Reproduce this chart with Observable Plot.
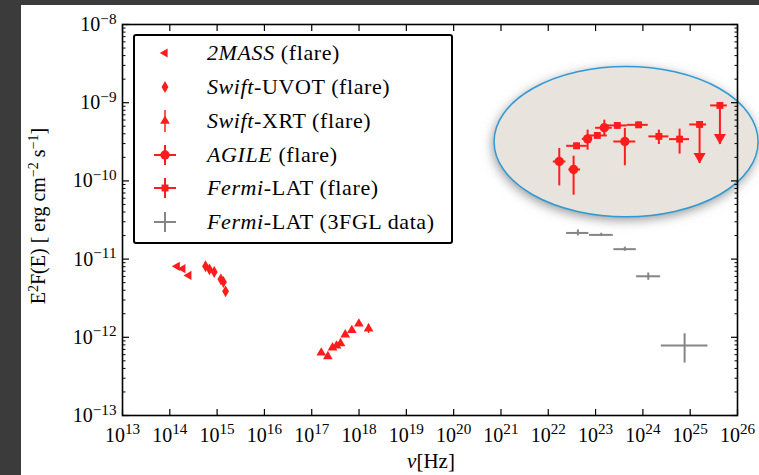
<!DOCTYPE html>
<html><head><meta charset="utf-8">
<script src="https://cdn.jsdelivr.net/npm/d3@7"></script>
<script src="https://cdn.jsdelivr.net/npm/@observablehq/plot@0.6"></script>
<style>
html,body{margin:0;padding:0;background:#3b3b3b;width:759px;height:475px;overflow:hidden;}
#panel{position:absolute;left:21px;top:5px;width:738px;height:470px;background:#fff;}
#chart{position:absolute;left:0;top:0;}
.lbl{position:absolute;font-family:"Liberation Serif","Times New Roman",serif;color:#000;white-space:nowrap;}
#ylabel{left:38px;top:216px;font-size:20px;transform:translate(-50%,-50%) rotate(-90deg);}
#xlabel{left:431px;top:461px;font-size:21px;transform:translate(-50%,-50%);}
sup{font-size:0.7em;vertical-align:0.5em;line-height:0;}
#legend{position:absolute;left:133px;top:34px;width:316px;height:206px;border:2px solid #000;border-radius:3px;background:#fff;font-family:"Liberation Serif","Times New Roman",serif;font-size:22px;color:#000;letter-spacing:0.6px;}
#legend .row{position:absolute;left:72px;transform:translateY(-50%);white-space:nowrap;line-height:1;}
#legsym{position:absolute;left:0;top:0;}
</style></head><body>
<div id="panel"></div>
<div id="chart"></div>
<div id="legend"><svg id="legsym" width="60" height="206"></svg></div>
<div class="lbl" id="ylabel">E<sup>2</sup>F(E) [ erg cm<sup>−2</sup> s<sup>−1</sup>]</div>
<div class="lbl" id="xlabel"><i>ν</i>[Hz]</div>
<script>
const RED = "#ff1c1c";
const GREY = "#858585";
const FONT = "Liberation Serif";

// tick labels (exponents of ten)
const xTickExponents = [13, 14, 15, 16, 17, 18, 19, 20, 21, 22, 23, 24, 25, 26];
const yTickExponents = [-13, -12, -11, -10, -9, -8];

// 2MASS (flare)
const twoMassNu = [1.43e14, 1.88e14, 2.52e14];
const twoMassFlux = [8.09e-12, 7.55e-12, 6.19e-12];

// Swift-UVOT (flare)
const uvotNu = [5.69e14, 6.90e14, 8.69e14, 1.20e15, 1.36e15, 1.51e15];
const uvotFlux = [8.09e-12, 7.40e-12, 6.84e-12, 5.51e-12, 5.09e-12, 3.87e-12];

// Swift-XRT (flare)
const xrtNu = [1.59e17, 2.19e17, 2.75e17, 3.34e17, 4.06e17, 5.11e17, 7.05e17, 9.91e17, 1.59e18];
const xrtFlux = [6.35e-13, 5.69e-13, 7.36e-13, 7.80e-13, 8.35e-13, 1.08e-12, 1.23e-12, 1.49e-12, 1.29e-12];
const xrtFluxLo = [6.35e-13, 5.69e-13, 7.36e-13, 7.80e-13, 8.35e-13, 1.08e-12, 1.23e-12, 1.49e-12, 1.12e-12];
const xrtFluxHi = [6.35e-13, 5.69e-13, 7.36e-13, 7.80e-13, 8.35e-13, 1.08e-12, 1.23e-12, 1.49e-12, 1.47e-12];

// AGILE (flare)
const agileNu = [1.71e22, 3.43e22, 6.78e22, 1.53e23, 4.16e23];
const agileNuLo = [1.28e22, 2.72e22, 5.24e22, 1.00e23, 2.43e23];
const agileNuHi = [2.36e22, 4.82e22, 8.51e22, 2.25e23, 7.08e23];
const agileFlux = [1.77e-10, 1.40e-10, 3.45e-10, 4.78e-10, 3.19e-10];
const agileFluxLo = [8.63e-11, 6.56e-11, 2.47e-10, 3.73e-10, 1.56e-10];
const agileFluxHi = [2.60e-10, 2.07e-10, 4.46e-10, 5.98e-10, 4.69e-10];

// Fermi-LAT (flare)
const latNu = [3.96e22, 1.09e23, 2.88e23, 8.11e23, 2.18e24, 5.97e24, 1.58e25, 4.25e25];
const latNuLo = [2.44e22, 6.68e22, 1.77e23, 4.68e23, 1.34e24, 3.66e24, 9.80e24, 2.70e25];
const latNuHi = [6.68e22, 1.77e23, 4.68e23, 1.30e24, 3.55e24, 9.71e24, 2.22e25, 6.08e25];
const latFlux = [2.81e-10, 3.81e-10, 5.12e-10, 5.21e-10, 3.71e-10, 3.42e-10, 5.27e-10, 9.23e-10];
const latFluxLo = [2.58e-10, 3.50e-10, 4.70e-10, 4.80e-10, 2.92e-10, 2.20e-10, 1.67e-10, 2.92e-10];
const latFluxHi = [3.06e-10, 4.15e-10, 5.58e-10, 5.66e-10, 4.46e-10, 4.59e-10, 5.27e-10, 9.23e-10];
const latUpperLimit = [false, false, false, false, false, false, true, true];

// Fermi-LAT (3FGL data)
const fglNu = [4.23e22, 1.32e23, 4.16e23, 1.30e24, 7.62e24];
const fglNuLo = [2.44e22, 7.46e22, 2.44e23, 7.36e23, 2.45e24];
const fglNuHi = [7.21e22, 2.37e23, 7.25e23, 2.37e24, 2.37e25];
const fglFlux = [2.16e-11, 2.04e-11, 1.34e-11, 6.03e-12, 7.87e-13];
const fglFluxLo = [1.98e-11, 1.94e-11, 1.26e-11, 5.36e-12, 4.68e-13];
const fglFluxHi = [2.36e-11, 2.14e-11, 1.42e-11, 6.64e-12, 1.11e-12];

// highlighted region (ellipse bounding box)
const ellipseNu = [7.33e20, 2.79e26];
const ellipseFlux = [3.43e-11, 2.86e-9];

// ---- tables
const xTicks = xTickExponents.map(e => Math.pow(10, e));
const yTicks = yTickExponents.map(e => Math.pow(10, e));
const yMinor = [];
for (let e = -13; e < -8; e++) for (let m = 2; m <= 9; m++) yMinor.push(m * Math.pow(10, e));

const twoMass = twoMassNu.map((x, i) => ({x, y: twoMassFlux[i]}));
const uvot = uvotNu.map((x, i) => ({x, y: uvotFlux[i]}));
const xrt = xrtNu.map((x, i) => ({x, y: xrtFlux[i], ylo: xrtFluxLo[i], yhi: xrtFluxHi[i]}));
const agile = agileNu.map((x, i) => ({x, xlo: agileNuLo[i], xhi: agileNuHi[i], y: agileFlux[i], ylo: agileFluxLo[i], yhi: agileFluxHi[i]}));
const lat = latNu.map((x, i) => ({x, xlo: latNuLo[i], xhi: latNuHi[i], y: latFlux[i], ylo: latFluxLo[i], yhi: latFluxHi[i], ul: latUpperLimit[i]}));
const latUL = lat.filter(d => d.ul);
const fgl = fglNu.map((x, i) => ({x, xlo: fglNuLo[i], xhi: fglNuHi[i], y: fglFlux[i], ylo: fglFluxLo[i], yhi: fglFluxHi[i]}));

const expFmt = d => "10^" + Math.round(Math.log10(d));
const blank = () => "";

function ellipseMark(index, scales) {
  const sx = scales.x, sy = scales.y;
  const x1 = sx(ellipseNu[0]), x2 = sx(ellipseNu[1]);
  const y1 = sy(ellipseFlux[0]), y2 = sy(ellipseFlux[1]);
  const g = d3.create("svg:g");
  const f = g.append("defs").append("filter").attr("id", "esh")
    .attr("x", "-20%").attr("y", "-30%").attr("width", "140%").attr("height", "160%");
  f.append("feDropShadow").attr("dx", -1).attr("dy", 3).attr("stdDeviation", 6)
    .attr("flood-color", "#7a7a7a").attr("flood-opacity", 0.85);
  const cx = (x1 + x2) / 2, cy = (y1 + y2) / 2, rx = Math.abs(x2 - x1) / 2, ry = Math.abs(y2 - y1) / 2;
  g.append("ellipse").attr("cx", cx).attr("cy", cy).attr("rx", rx).attr("ry", ry)
    .attr("fill", "#e8e4dd").attr("filter", "url(#esh)");
  g.append("ellipse").attr("cx", cx).attr("cy", cy).attr("rx", rx).attr("ry", ry)
    .attr("fill", "none").attr("stroke", "#2f9ad6").attr("stroke-width", 1.5);
  return g.node();
}

const plot = Plot.plot({
  width: 759, height: 475,
  marginLeft: 122, marginRight: 22, marginTop: 24, marginBottom: 60,
  style: {background: "transparent", fontFamily: FONT, color: "black", overflow: "visible"},
  x: {type: "log", domain: [1e13, 1e26]},
  y: {type: "log", domain: [1e-13, 1e-8]},
  marks: [
    ellipseMark,
    Plot.frame({stroke: "black", strokeWidth: 1.6}),
    Plot.axisX({ticks: xTicks, anchor: "bottom", tickSize: 0, tickPadding: 12, tickFormat: expFmt, fontSize: 20, label: null}),
    Plot.axisX({ticks: xTicks, anchor: "bottom", tickSize: -6, tickFormat: blank, label: null, strokeWidth: 1.2}),
    Plot.axisX({ticks: xTicks, anchor: "top", tickSize: -6, tickFormat: blank, label: null, strokeWidth: 1.2}),
    Plot.axisY({ticks: yTicks, anchor: "left", tickSize: 0, tickPadding: 6, tickFormat: expFmt, fontSize: 20, label: null}),
    Plot.axisY({ticks: yTicks, anchor: "left", tickSize: -7, tickFormat: blank, label: null, strokeWidth: 1.2}),
    Plot.axisY({ticks: yTicks, anchor: "right", tickSize: -7, tickFormat: blank, label: null, strokeWidth: 1.2}),
    Plot.axisY({ticks: yMinor, anchor: "left", tickSize: -3.5, tickFormat: blank, label: null, strokeWidth: 1}),
    Plot.axisY({ticks: yMinor, anchor: "right", tickSize: -3.5, tickFormat: blank, label: null, strokeWidth: 1}),
    // 3FGL
    Plot.ruleY(fgl, {y: "y", x1: "xlo", x2: "xhi", stroke: GREY, strokeWidth: 2}),
    Plot.ruleX(fgl, {x: "x", y1: "ylo", y2: "yhi", stroke: GREY, strokeWidth: 2}),
    // 2MASS, UVOT, XRT
    Plot.dot(twoMass, {x: "x", y: "y", symbol: "triangle", rotate: -90, r: 3.4, fill: RED}),
    Plot.dot(uvot, {x: "x", y: "y", symbol: "diamond", r: 3.6, fill: RED}),
    Plot.ruleX(xrt, {x: "x", y1: "ylo", y2: "yhi", stroke: RED, strokeWidth: 1.5}),
    Plot.dot(xrt, {x: "x", y: "y", symbol: "triangle", r: 3.6, fill: RED}),
    // AGILE
    Plot.ruleY(agile, {y: "y", x1: "xlo", x2: "xhi", stroke: RED, strokeWidth: 2}),
    Plot.ruleX(agile, {x: "x", y1: "ylo", y2: "yhi", stroke: RED, strokeWidth: 2}),
    Plot.dot(agile, {x: "x", y: "y", r: 4.7, fill: RED}),
    // Fermi-LAT flare
    Plot.ruleY(lat, {y: "y", x1: "xlo", x2: "xhi", stroke: RED, strokeWidth: 2}),
    Plot.ruleX(lat, {x: "x", y1: "ylo", y2: "yhi", stroke: RED, strokeWidth: 2}),
    Plot.dot(latUL, {x: "x", y: "ylo", symbol: "triangle", rotate: 180, r: 4.5, fill: RED, dy: -6.9}),
    Plot.dot(lat, {x: "x", y: "y", symbol: "square", r: 3.9, fill: RED})
  ]
});

// render exponents as superscripts
const NS = "http://www.w3.org/2000/svg";
plot.querySelectorAll("text").forEach(t => {
  const m = (t.textContent || "").match(/^10\^(.+)$/);
  if (!m) return;
  t.textContent = "";
  const a = document.createElementNS(NS, "tspan"); a.textContent = "10"; t.appendChild(a);
  const b = document.createElementNS(NS, "tspan");
  b.setAttribute("dy", "-0.48em"); b.setAttribute("font-size", "0.76em");
  b.textContent = m[1].replace("-", "\u2212"); t.appendChild(b);
});
document.getElementById("chart").appendChild(plot);

// legend
const legendRows = [
  {html: "<i>2MASS</i> (flare)", y: 17},
  {html: "<i>Swift</i>-UVOT (flare)", y: 51},
  {html: "<i>Swift</i>-XRT (flare)", y: 85},
  {html: "<i>AGILE</i> (flare)", y: 119},
  {html: "<i>Fermi</i>-LAT (flare)", y: 152},
  {html: "<i>Fermi</i>-LAT (3FGL data)", y: 186}
];
const leg = document.getElementById("legend");
legendRows.forEach(r => {
  const d = document.createElement("div"); d.className = "row"; d.style.top = r.y + "px"; d.innerHTML = r.html; leg.appendChild(d);
});
const ls = d3.select("#legsym");
const cxL = 30;
const sym = (type, r) => d3.symbol(type, Math.PI * r * r)();
ls.append("path").attr("d", sym(d3.symbolTriangle, 3.4)).attr("transform", `translate(${cxL},${legendRows[0].y}) rotate(-90)`).attr("fill", RED);
ls.append("path").attr("d", sym(d3.symbolDiamond, 3.6)).attr("transform", `translate(${cxL},${legendRows[1].y})`).attr("fill", RED);
ls.append("line").attr("x1", cxL).attr("x2", cxL).attr("y1", legendRows[2].y - 11).attr("y2", legendRows[2].y + 11).attr("stroke", RED).attr("stroke-width", 1.5);
ls.append("path").attr("d", sym(d3.symbolTriangle, 3.6)).attr("transform", `translate(${cxL},${legendRows[2].y})`).attr("fill", RED);
[3, 4].forEach(k => {
  const y = legendRows[k].y;
  ls.append("line").attr("x1", cxL - 11).attr("x2", cxL + 11).attr("y1", y).attr("y2", y).attr("stroke", RED).attr("stroke-width", 2);
  ls.append("line").attr("x1", cxL).attr("x2", cxL).attr("y1", y - 10).attr("y2", y + 10).attr("stroke", RED).attr("stroke-width", 2);
});
ls.append("circle").attr("cx", cxL).attr("cy", legendRows[3].y).attr("r", 4.7).attr("fill", RED);
ls.append("path").attr("d", sym(d3.symbolSquare, 3.9)).attr("transform", `translate(${cxL},${legendRows[4].y})`).attr("fill", RED);
{
  const y = legendRows[5].y;
  ls.append("line").attr("x1", cxL - 11).attr("x2", cxL + 11).attr("y1", y).attr("y2", y).attr("stroke", GREY).attr("stroke-width", 2);
  ls.append("line").attr("x1", cxL).attr("x2", cxL).attr("y1", y - 10).attr("y2", y + 10).attr("stroke", GREY).attr("stroke-width", 2);
}
</script>
</body></html>
